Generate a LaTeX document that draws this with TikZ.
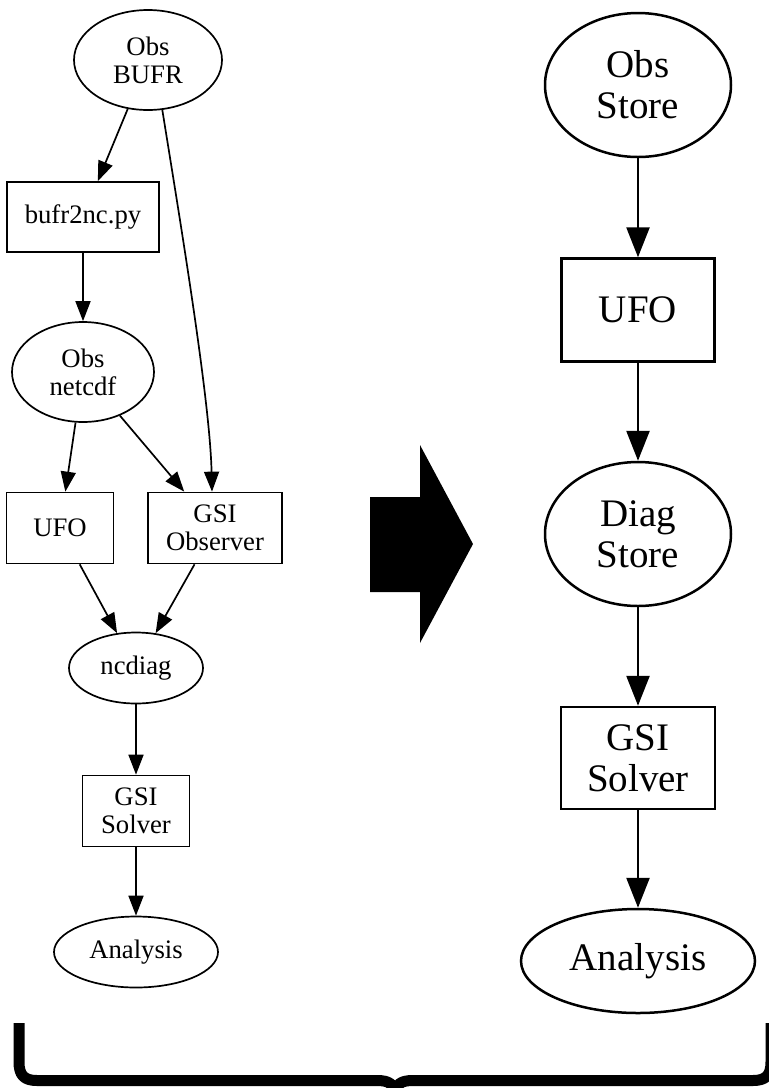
\documentclass[tikz,border=0pt]{standalone}
\usepackage{fontspec}
\setmainfont{Liberation Serif}
\usetikzlibrary{arrows.meta,shapes.geometric}
\begin{document}
\begin{tikzpicture}[x=1pt,y=-1pt,
  lnode/.style={draw,line width=1.7pt,inner sep=0pt,align=center,font=\fontsize{26.7}{28}\selectfont},
  rnode/.style={draw,line width=2.5pt,inner sep=0pt,align=center,font=\fontsize{39}{41}\selectfont},
  lell/.style={lnode,ellipse},
  lbox/.style={lnode,rectangle},
  rell/.style={rnode,ellipse},
  rbox/.style={rnode,rectangle},
  ledge/.style={line width=1.7pt,-{Triangle[length=20pt,width=15pt]}},
  redge/.style={line width=2.5pt,-{Triangle[length=30pt,width=23pt]}},
  brace/.style={line width=11pt,line join=round,line cap=butt}
]
\useasboundingbox (0,0) rectangle (769,1088);
\clip (0,0) rectangle (769,1088);

% left graph
\node[lell,minimum width=148pt,minimum height=100pt] (bufr) at (148,60) {Obs\\BUFR};
\node[lbox,minimum width=152pt,minimum height=70pt] (b2nc) at (83,217) {bufr2nc.py};
\node[lell,minimum width=142pt,minimum height=100pt] (ncdf) at (83,372) {Obs\\netcdf};
\node[lbox,minimum width=107pt,minimum height=71pt] (ufoL) at (60,528) {UFO};
\node[lbox,minimum width=134pt,minimum height=71pt] (gsiobs) at (215,528) {GSI\\Observer};
\node[lell,minimum width=134pt,minimum height=71pt] (ncdiag) at (136,668) {ncdiag};
\node[lbox,minimum width=107pt,minimum height=71pt] (solverL) at (136,811) {GSI\\Solver};
\node[lell,minimum width=164pt,minimum height=71pt] (anaL) at (136,952) {Analysis};

\draw[ledge] (bufr) -- (b2nc);
\draw[ledge] (bufr.-74) .. controls (180,220) and (210,400) .. ([xshift=-3pt]gsiobs.north);
\draw[ledge] (b2nc) -- (ncdf);
\draw[ledge] (ncdf) -- (ufoL);
\draw[ledge] (ncdf) -- (gsiobs);
\draw[ledge] (ufoL) -- (ncdiag);
\draw[ledge] (gsiobs) -- (ncdiag);
\draw[ledge] (ncdiag) -- (solverL);
\draw[ledge] (solverL) -- (anaL);

% big arrow
\fill[black] (370,497) -- (420,497) -- (420,445) -- (473,544) -- (420,643) -- (420,592) -- (370,592) -- cycle;

% right graph
\node[rell,minimum width=186pt,minimum height=144pt] (obsstore) at (638,85) {Obs\\Store};
\node[rbox,minimum width=153pt,minimum height=103pt] (ufoR) at (638,310) {UFO};
\node[rell,minimum width=186pt,minimum height=144pt] (diagstore) at (638,534) {Diag\\Store};
\node[rbox,minimum width=154pt,minimum height=102pt] (solverR) at (638,758) {GSI\\Solver};
\node[rell,minimum width=234pt,minimum height=104pt] (anaR) at (638,961) {Analysis};

\draw[redge] (obsstore) -- (ufoR);
\draw[redge] (ufoR) -- (diagstore);
\draw[redge] (diagstore) -- (solverR);
\draw[redge] (solverR) -- (anaR);

% brace
\draw[brace] (19,1023) -- (19,1062) .. controls (19,1075) and (24,1080.5) .. (37,1080.5)
  -- (377,1080.5) .. controls (389,1080.5) and (395,1084) .. (395,1096)
  .. controls (395,1084) and (401,1080.5) .. (413,1080.5)
  -- (753,1080.5) .. controls (766,1080.5) and (771,1075) .. (771,1062) -- (771,1023);
\end{tikzpicture}
\end{document}
